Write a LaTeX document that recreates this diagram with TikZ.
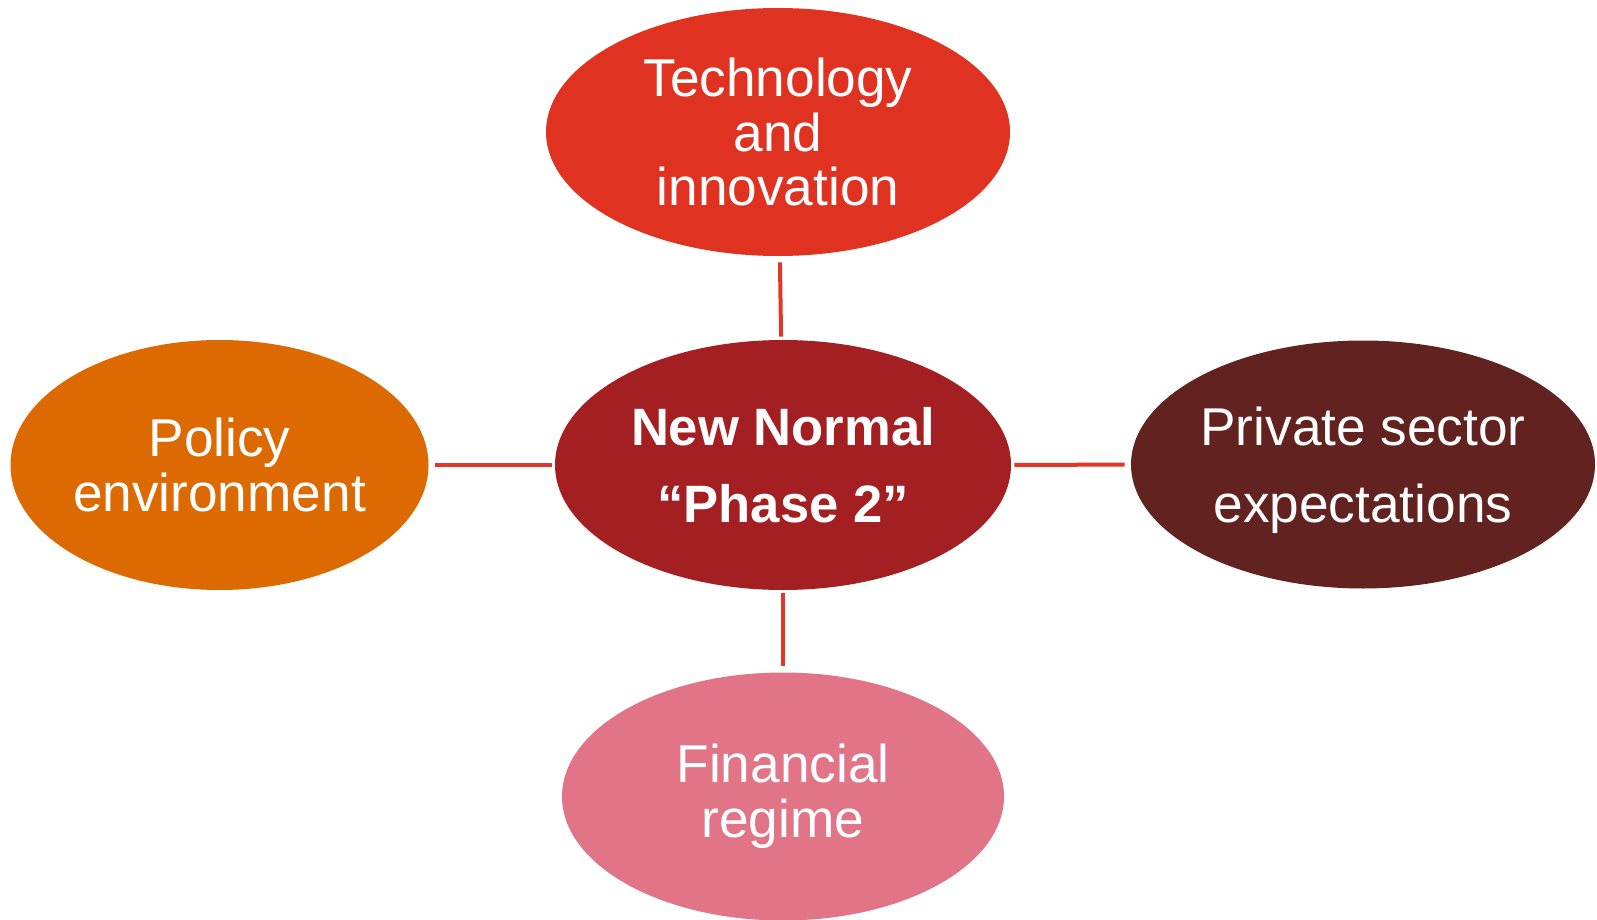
\documentclass[tikz,border=0pt]{standalone}
\usepackage{fontspec}
\setmainfont{Liberation Sans}
\usetikzlibrary{shapes.geometric}

\definecolor{techred}{HTML}{E03220}
\definecolor{corered}{HTML}{A31F22}
\definecolor{policyorange}{HTML}{DC6A00}
\definecolor{privatebrown}{HTML}{612220}
\definecolor{financepink}{HTML}{E17487}
\definecolor{linkred}{HTML}{E0372A}

\tikzset{
  every topic/.style={ellipse, inner sep=0pt, text=white, align=center,
    font=\fontsize{26.6pt}{27.3pt}\selectfont},
  wide lines/.style={font=\fontsize{26.6pt}{38.3pt}\selectfont},
  bold lines/.style={font=\bfseries\fontsize{26.3pt}{38.6pt}\selectfont},
  link/.style={draw=linkred, line width=2pt, shorten <=1.5pt, shorten >=3pt}
}

\begin{document}
\begin{tikzpicture}[x=0.5pt, y=-0.5pt]

\useasboundingbox (0,0) rectangle (1597,920);

\node [every topic/.try, bold lines, fill=corered, minimum width=228pt,
  minimum height=125pt] (core) at (783,465)
  {New Normal\\“Phase 2”};

\node [every topic/.try, fill=techred, minimum width=232pt,
  minimum height=124pt] (tech) at (778,132)
  {Technology\\and\\innovation};

\node [every topic/.try, fill=policyorange, minimum width=209pt,
  minimum height=125pt] (policy) at (219.5,465)
  {Policy\\environment};

\node [every topic/.try, wide lines, fill=privatebrown, minimum width=232pt,
  minimum height=124pt, text depth=0pt] (private) at (1363,464.5)
  {Private sector\\expectations};

\node [every topic/.try, fill=financepink, minimum width=221pt,
  minimum height=124pt] (finance) at (783,796.5)
  {Financial\\regime};

\foreach \n in {tech, policy, private, finance}
  \draw [link] (core) -- (\n);

\end{tikzpicture}
\end{document}
